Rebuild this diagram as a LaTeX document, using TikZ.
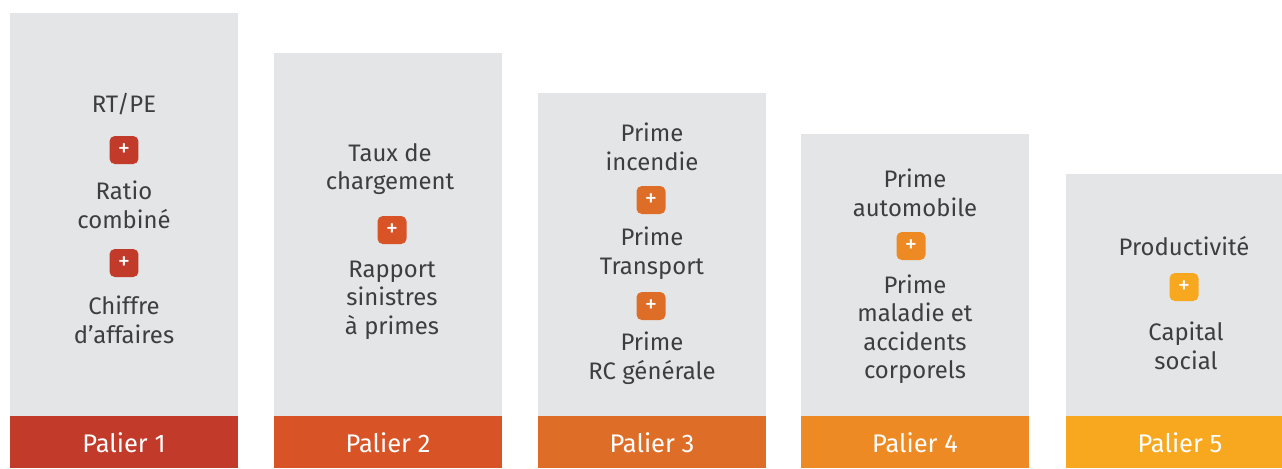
\documentclass[tikz,border=0pt]{standalone}
\usepackage{fontspec}
\setmainfont{Fira Sans}
\usepackage{tikz}
\usetikzlibrary{positioning}
\definecolor{PalierGray}{HTML}{E4E5E7}
\definecolor{PalierText}{HTML}{3E3E40}
\definecolor{PalierOne}{HTML}{C23A2A}
\definecolor{PalierTwo}{HTML}{D85427}
\definecolor{PalierThree}{HTML}{DE6E27}
\definecolor{PalierFour}{HTML}{EE8A23}
\definecolor{PalierFive}{HTML}{F7A81E}

\begin{document}
\begin{tikzpicture}[x=0.02cm, y=-0.02cm,
  column/.style={fill=PalierGray, anchor=north, minimum width=4.56cm, inner sep=0pt},
  bar/.style={fill=#1, anchor=north, minimum width=4.56cm, minimum height=1.04cm,
    inner sep=0pt, text=white, font=\fontsize{14.5}{16}\selectfont},
  plus/.style={fill=#1, rounded corners=3pt, minimum width=0.58cm, minimum height=0.56cm,
    inner sep=0pt, text=white, font=\fontsize{14}{14}\selectfont},
  itemtext/.style={align=center, text=PalierText, font=\fontsize{13.6}{16.2}\selectfont}]
  \useasboundingbox (0,0) rectangle (1282,468);

  % columns and bars
  \node[column, minimum height=8.06cm] (col1) at (124,13) {};
  \node[column, minimum height=7.26cm] (col2) at (388,53) {};
  \node[column, minimum height=6.46cm] (col3) at (652,93) {};
  \node[column, minimum height=5.64cm] (col4) at (915,134) {};
  \node[column, minimum height=4.84cm] (col5) at (1180,174) {};
  \node[bar=PalierOne]   (bar1) at (124,416)  {Palier 1};
  \node[bar=PalierTwo]   (bar2) at (388,416)  {Palier 2};
  \node[bar=PalierThree] (bar3) at (652,416)  {Palier 3};
  \node[bar=PalierFour]  (bar4) at (915,416)  {Palier 4};
  \node[bar=PalierFive]  (bar5) at (1180,416) {Palier 5};

  % Palier 1
  \node[itemtext] (rtpe) at (124,104) {RT/PE};
  \node[plus=PalierOne] (plus1a) at (124,150) {+};
  \node[itemtext] (ratio) at (124,205) {Ratio\\combiné};
  \node[plus=PalierOne] (plus1b) at (124,263) {+};
  \node[itemtext] (chiffre) at (124,320) {Chiffre\\d’affaires};

  % Palier 2
  \node[itemtext] (taux) at (390,169) {Taux de\\chargement};
  \node[plus=PalierTwo] (plus2) at (392,230) {+};
  \node[itemtext] (rapport) at (392,300) {Rapport\\sinistres\\à primes};

  % Palier 3
  \node[itemtext] (incendie) at (652,147) {Prime\\incendie};
  \node[plus=PalierThree] (plus3a) at (651,200) {+};
  \node[itemtext] (transport) at (652,253) {Prime\\Transport};
  \node[plus=PalierThree] (plus3b) at (651,306) {+};
  \node[itemtext] (rcgen) at (652,358) {Prime\\RC générale};

  % Palier 4
  \node[itemtext] (auto) at (915,193) {Prime\\automobile};
  \node[plus=PalierFour] (plus4) at (911,246) {+};
  \node[itemtext] (maladie) at (915,329) {Prime\\maladie et\\accidents\\corporels};

  % Palier 5
  \node[itemtext] (produc) at (1184,246) {Productivité};
  \node[plus=PalierFive] (plus5) at (1184,287) {+};
  \node[itemtext] (capital) at (1186,346) {Capital\\social};
\end{tikzpicture}
\end{document}
